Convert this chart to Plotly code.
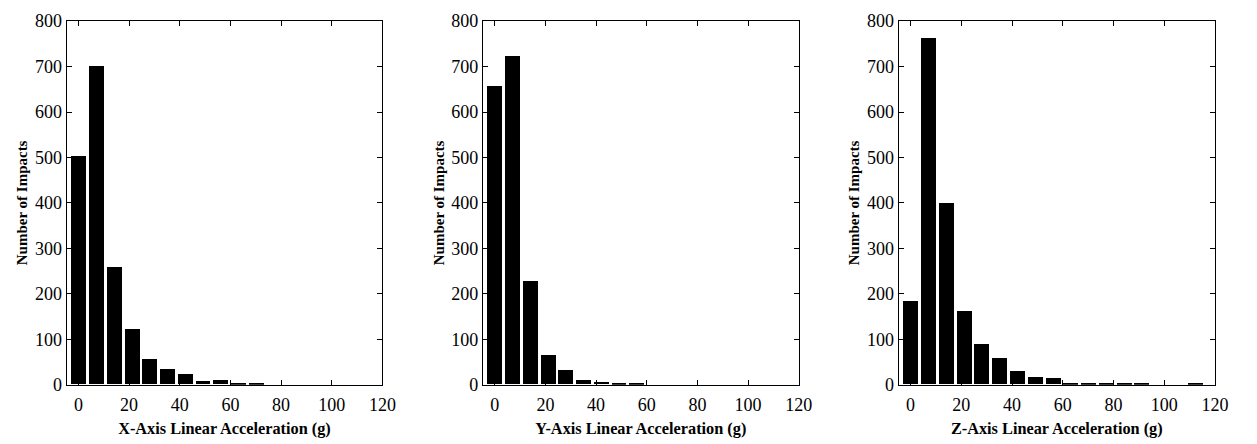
import plotly.graph_objects as go

# Histogram bin centres (g) shared by the three acceleration axes
bin_centers = [0, 7, 14, 21, 28, 35, 42, 49, 56, 63, 70, 77, 84, 91, 98, 105, 112]

# Impact counts per bin
x_counts = [502, 700, 259, 122, 57, 33, 22, 8, 10, 4, 2, 0, 0, 0, 0, 0, 0]
y_counts = [658, 722, 227, 64, 31, 10, 5, 2, 4, 0, 0, 0, 0, 0, 0, 0, 0]
z_counts = [184, 762, 400, 162, 90, 58, 29, 16, 15, 3, 4, 3, 3, 3, 0, 0, 4]

x_titles = [
    "X-Axis Linear Acceleration (g)",
    "Y-Axis Linear Acceleration (g)",
    "Z-Axis Linear Acceleration (g)",
]
y_title = "Number of Impacts"

x_ticks = [0, 20, 40, 60, 80, 100, 120]
y_ticks = [0, 100, 200, 300, 400, 500, 600, 700, 800]

FONT = "Liberation Serif, Times New Roman, serif"
W, H = 1257, 444

# Plot-area pixel extents for each panel (left, right)
panels_px = [(67.3, 386.7), (488.3, 807.7), (908.7, 1228.7)]
top_px, bottom_px = 11.7, 392.3

fig = go.Figure()

for i, counts in enumerate([x_counts, y_counts, z_counts]):
    suffix = "" if i == 0 else str(i + 1)
    fig.add_trace(go.Bar(
        x=bin_centers,
        y=counts,
        width=5.9,
        marker=dict(color="black", line=dict(width=0)),
        xaxis="x" + suffix,
        yaxis="y" + suffix,
        showlegend=False,
    ))

    left, right = panels_px[i]
    fig.update_layout({
        "xaxis" + suffix: dict(
            domain=[left / W, right / W],
            range=[-4.7, 120],
            tickvals=x_ticks,
            ticks="inside",
            ticklen=5,
            tickcolor="black",
            showline=True,
            linecolor="black",
            linewidth=1,
            mirror="ticks",
            showgrid=False,
            zeroline=False,
            ticklabelstandoff=4,
            tickfont=dict(family=FONT, size=18, color="black"),
            title=dict(text="<b>" + x_titles[i] + "</b>",
                       font=dict(family=FONT, size=16.3, color="black"),
                       standoff=8),
            anchor="y" + suffix,
        ),
        "yaxis" + suffix: dict(
            domain=[1 - bottom_px / H, 1 - top_px / H],
            range=[0, 800],
            tickvals=y_ticks,
            ticks="inside",
            ticklen=5,
            tickcolor="black",
            showline=True,
            linecolor="black",
            linewidth=1,
            mirror="ticks",
            showgrid=False,
            zeroline=False,
            tickfont=dict(family=FONT, size=18, color="black"),
            title=dict(text="<b>" + y_title + "</b>",
                       font=dict(family=FONT, size=15, color="black"),
                       standoff=3),
            anchor="x" + suffix,
        ),
    })

fig.update_layout(
    width=W,
    height=H,
    margin=dict(l=0, r=0, t=0, b=0),
    paper_bgcolor="white",
    plot_bgcolor="white",
    bargap=0,
)

fig.write_html("out.html")
